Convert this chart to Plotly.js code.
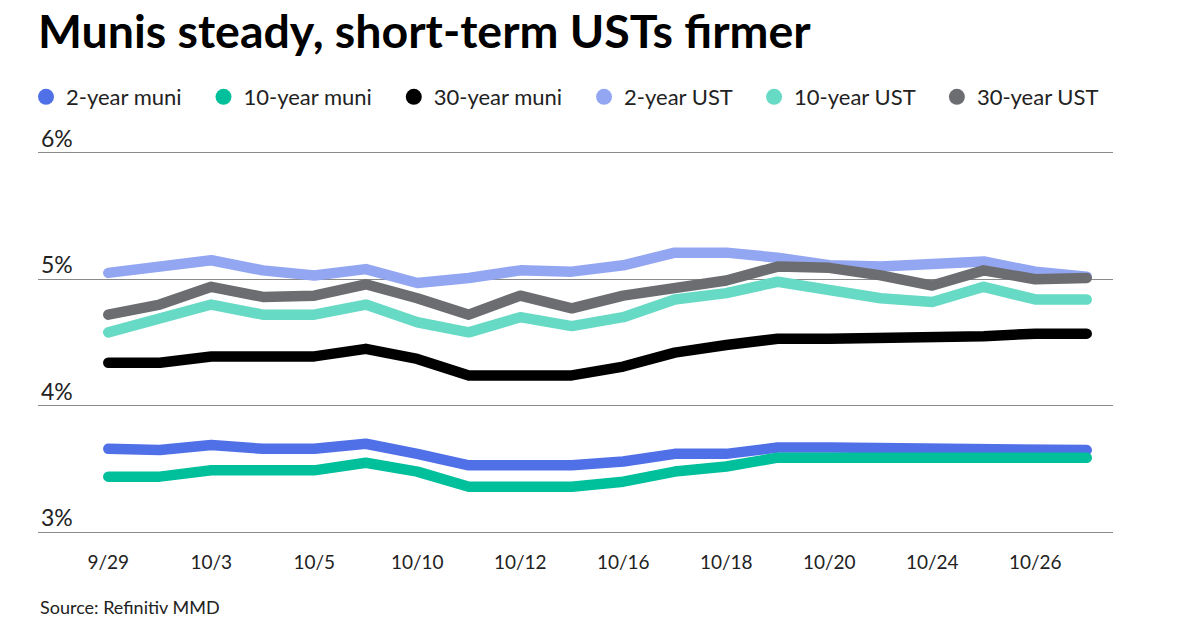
<!DOCTYPE html>
<html>
<head>
<meta charset="utf-8">
<script src="https://cdn.plot.ly/plotly-3.0.1.min.js"></script>
<style>
  html, body { margin: 0; padding: 0; background: #fff; }
  #chart { width: 1200px; height: 630px; }
  .js-line { stroke-linecap: round; stroke-linejoin: round; }
</style>
</head>
<body>
<div id="chart"></div>
<script>
const dates = ["9/29","10/2","10/3","10/4","10/5","10/6","10/10","10/11","10/12","10/13",
               "10/16","10/17","10/18","10/19","10/20","10/23","10/24","10/25","10/26","10/27"];
const tickDates = ["9/29","10/3","10/5","10/10","10/12","10/16","10/18","10/20","10/24","10/26"];

const twoYearMuni   = [3.66,3.65,3.69,3.66,3.66,3.70,3.62,3.53,3.53,3.53,3.56,3.62,3.62,3.67,3.67,3.67,3.66,3.65,3.65,3.65];
const tenYearMuni   = [3.44,3.44,3.49,3.49,3.49,3.55,3.48,3.36,3.36,3.36,3.40,3.48,3.52,3.59,3.59,3.59,3.59,3.59,3.59,3.59];
const thirtyYearMuni= [4.34,4.34,4.39,4.39,4.39,4.45,4.37,4.24,4.24,4.24,4.31,4.42,4.48,4.53,4.53,4.53,4.53,4.55,4.57,4.57];
const twoYearUST    = [5.05,5.11,5.15,5.07,5.03,5.08,4.97,5.01,5.07,5.06,5.11,5.21,5.21,5.17,5.11,5.10,5.12,5.14,5.06,5.02];
const tenYearUST    = [4.58,4.68,4.80,4.72,4.72,4.80,4.66,4.58,4.70,4.63,4.70,4.84,4.89,4.98,4.92,4.85,4.82,4.94,4.84,4.84];
const thirtyYearUST = [4.72,4.80,4.94,4.86,4.87,4.96,4.85,4.72,4.87,4.77,4.87,4.94,4.99,5.10,5.09,5.03,4.95,5.07,5.00,5.01];

const yTickVals = [3,4,5,6];
const yTickText = ["3%","4%","5%","6%"];

const seriesNames = ["2-year muni","10-year muni","30-year muni","2-year UST","10-year UST","30-year UST"];
const seriesData  = [twoYearMuni, tenYearMuni, thirtyYearMuni, twoYearUST, tenYearUST, thirtyYearUST];
const seriesColors= ["#5070e8","#00bf9b","#000000","#93a6f1","#66dac4","#6c6d71"];
// draw order (bottom to top)
const drawOrder = [0,1,2,4,3,5];

const traces = [];
drawOrder.forEach(i => {
  traces.push({
    x: dates, y: seriesData[i], type: "scatter", mode: "lines",
    name: seriesNames[i], showlegend: false, hoverinfo: "skip",
    line: { color: seriesColors[i], width: 10.5 }
  });
});
const pad = "\u00a0\u00a0\u00a0";
seriesNames.forEach((n, i) => {
  traces.push({
    x: [null], y: [null], type: "scatter", mode: "markers",
    name: i < seriesNames.length - 1 ? n + pad : n,
    marker: { color: seriesColors[i], size: 16, symbol: "circle" },
    showlegend: true, legendrank: i + 1
  });
});

const layout = {
  width: 1200, height: 630,
  margin: { l: 38, r: 87, t: 140.4, b: 85.4 },
  paper_bgcolor: "#ffffff", plot_bgcolor: "#ffffff",
  font: { family: "Lato, 'Noto Sans', sans-serif", color: "#222222" },
  title: {
    text: "Munis steady, short-term USTs firmer",
    font: { family: "Lato, sans-serif", size: 46.5, weight: "bold", color: "#000000" },
    x: 38/1200, xref: "container", xanchor: "left",
    y: 1 - 32/630, yref: "container", yanchor: "middle"
  },
  showlegend: true,
  legend: {
    orientation: "h", x: 26/1200, xanchor: "left", xref: "container",
    y: 1 - 97/630, yref: "container", yanchor: "middle",
    font: { family: "Lato, sans-serif", size: 22, color: "#222222" },
    itemclick: false, itemdoubleclick: false, traceorder: "normal"
  },
  xaxis: {
    type: "category",
    range: [-1.365, 19.51],
    tickmode: "array", tickvals: tickDates, ticktext: tickDates,
    showgrid: false, zeroline: false, showline: false,
    ticks: "", ticklabelstandoff: 4,
    tickfont: { family: "Lato, sans-serif", size: 19, color: "#222222" },
    fixedrange: true
  },
  yaxis: {
    range: [2.9, 6.1],
    tickmode: "array", tickvals: yTickVals, ticktext: yTickText,
    showgrid: true, gridcolor: "#8a8a8a", gridwidth: 1,
    zeroline: false, showline: false, ticks: "",
    ticklabelposition: "inside", ticklabelshift: -14, ticklabelstandoff: 0,
    ticklabeloverflow: "allow",
    tickfont: { family: "Lato, sans-serif", size: 23, color: "#222222" },
    fixedrange: true
  },
  annotations: [{
    text: "Source: Refinitiv MMD", xref: "paper", yref: "paper",
    x: 0, y: (544.6 - 606) / 404.2, xanchor: "left", yanchor: "middle",
    showarrow: false, font: { family: "Lato, sans-serif", size: 18, color: "#222222" }
  }]
};

Plotly.newPlot("chart", traces, layout, { displayModeBar: false, staticPlot: true });
</script>
</body>
</html>
